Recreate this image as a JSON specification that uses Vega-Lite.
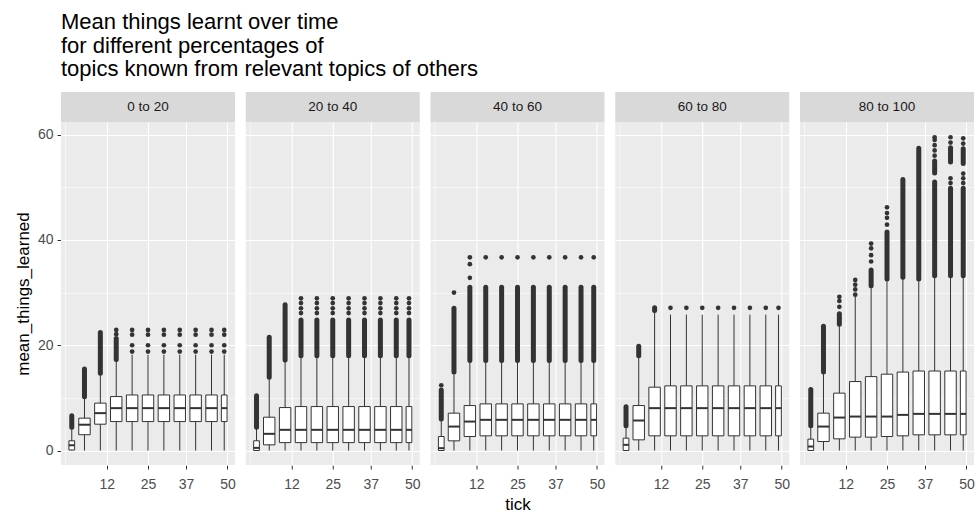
{
  "$schema": "https://vega.github.io/schema/vega-lite/v6.json",
  "background": "white",
  "padding": {"left": 14, "top": 11, "right": 2, "bottom": 0},
  "config": {"font": "Liberation Sans", "view": {"stroke": null}},
  "title": {
    "text": ["Mean things learnt over time", "\u2009for different percentages of", "\u2009topics known from relevant topics of others"],
    "anchor": "start", "frame": "group", "fontSize": 22, "fontWeight": "normal", "color": "#000000", "lineHeight": 23.5, "offset": 11
  },
  "spacing": 0,
  "vconcat": [
    {
      "data": {"values": [{"panel": "0 to 20"}, {"panel": "20 to 40"}, {"panel": "40 to 60"}, {"panel": "60 to 80"}, {"panel": "80 to 100"}]},
      "facet": {"column": {"field": "panel", "type": "nominal", "sort": ["0 to 20", "20 to 40", "40 to 60", "60 to 80", "80 to 100"], "header": {"labels": false, "title": null}}},
      "spacing": 10.75,
      "spec": {
        "width": 174, "height": 30,
        "view": {"fill": "#D9D9D9", "stroke": null},
        "mark": {"type": "text", "fontSize": 13.5, "color": "#1A1A1A"},
        "encoding": {"text": {"field": "panel", "type": "nominal"}}
      }
    },
    {
      "data": {"values": [
        {"panel":"0 to 20","kind":"box","tick":1,"box_start":0.1,"box_end":1.9,"lower":0,"q1":0.1,"median":1.0,"q3":1.85,"upper":4.2},
        {"panel":"0 to 20","kind":"box","tick":5,"box_start":3.2,"box_end":6.8,"lower":0,"q1":3.0,"median":4.9,"q3":6.15,"upper":9.9},
        {"panel":"0 to 20","kind":"box","tick":10,"box_start":8.2,"box_end":11.8,"lower":0,"q1":5.0,"median":7.1,"q3":9.0,"upper":14.4},
        {"panel":"0 to 20","kind":"box","tick":15,"box_start":13.2,"box_end":16.8,"lower":0,"q1":5.5,"median":8.05,"q3":10.25,"upper":17.0},
        {"panel":"0 to 20","kind":"box","tick":20,"box_start":18.2,"box_end":21.8,"lower":0,"q1":5.5,"median":8.05,"q3":10.55,"upper":18.2},
        {"panel":"0 to 20","kind":"box","tick":25,"box_start":23.2,"box_end":26.8,"lower":0,"q1":5.5,"median":8.05,"q3":10.55,"upper":18.2},
        {"panel":"0 to 20","kind":"box","tick":30,"box_start":28.2,"box_end":31.8,"lower":0,"q1":5.5,"median":8.05,"q3":10.55,"upper":18.2},
        {"panel":"0 to 20","kind":"box","tick":35,"box_start":33.2,"box_end":36.8,"lower":0,"q1":5.5,"median":8.05,"q3":10.55,"upper":18.2},
        {"panel":"0 to 20","kind":"box","tick":40,"box_start":38.2,"box_end":41.8,"lower":0,"q1":5.5,"median":8.05,"q3":10.55,"upper":18.2},
        {"panel":"0 to 20","kind":"box","tick":45,"box_start":43.2,"box_end":46.8,"lower":0,"q1":5.5,"median":8.05,"q3":10.55,"upper":18.2},
        {"panel":"0 to 20","kind":"box","tick":49,"box_start":48.1,"box_end":49.9,"lower":0,"q1":5.5,"median":8.05,"q3":10.55,"upper":18.2},
        {"panel":"0 to 20","kind":"streak","tick":1,"from":4.4,"to":6.6},
        {"panel":"0 to 20","kind":"streak","tick":5,"from":10.2,"to":15.5},
        {"panel":"0 to 20","kind":"streak","tick":10,"from":14.7,"to":22.4},
        {"panel":"0 to 20","kind":"streak","tick":15,"from":17.3,"to":21.3},
        {"panel":"0 to 20","kind":"dot","tick":15,"value":22.1},
        {"panel":"0 to 20","kind":"dot","tick":15,"value":22.9},
        {"panel":"0 to 20","kind":"dot","tick":20,"value":18.8},{"panel":"0 to 20","kind":"dot","tick":20,"value":20.0},{"panel":"0 to 20","kind":"dot","tick":20,"value":22.0},{"panel":"0 to 20","kind":"dot","tick":20,"value":22.9},
        {"panel":"0 to 20","kind":"dot","tick":25,"value":18.8},{"panel":"0 to 20","kind":"dot","tick":25,"value":20.0},{"panel":"0 to 20","kind":"dot","tick":25,"value":22.0},{"panel":"0 to 20","kind":"dot","tick":25,"value":22.9},
        {"panel":"0 to 20","kind":"dot","tick":30,"value":18.8},{"panel":"0 to 20","kind":"dot","tick":30,"value":20.0},{"panel":"0 to 20","kind":"dot","tick":30,"value":22.0},{"panel":"0 to 20","kind":"dot","tick":30,"value":22.9},
        {"panel":"0 to 20","kind":"dot","tick":35,"value":18.8},{"panel":"0 to 20","kind":"dot","tick":35,"value":20.0},{"panel":"0 to 20","kind":"dot","tick":35,"value":22.0},{"panel":"0 to 20","kind":"dot","tick":35,"value":22.9},
        {"panel":"0 to 20","kind":"dot","tick":40,"value":18.8},{"panel":"0 to 20","kind":"dot","tick":40,"value":20.0},{"panel":"0 to 20","kind":"dot","tick":40,"value":22.0},{"panel":"0 to 20","kind":"dot","tick":40,"value":22.9},
        {"panel":"0 to 20","kind":"dot","tick":45,"value":18.8},{"panel":"0 to 20","kind":"dot","tick":45,"value":20.0},{"panel":"0 to 20","kind":"dot","tick":45,"value":22.0},{"panel":"0 to 20","kind":"dot","tick":45,"value":22.9},
        {"panel":"0 to 20","kind":"dot","tick":49,"value":18.8},{"panel":"0 to 20","kind":"dot","tick":49,"value":20.0},{"panel":"0 to 20","kind":"dot","tick":49,"value":22.0},{"panel":"0 to 20","kind":"dot","tick":49,"value":22.9},

        {"panel":"20 to 40","kind":"box","tick":1,"box_start":0.1,"box_end":1.9,"lower":0,"q1":0,"median":0.5,"q3":1.85,"upper":4.25},
        {"panel":"20 to 40","kind":"box","tick":5,"box_start":3.2,"box_end":6.8,"lower":0,"q1":1.08,"median":3.17,"q3":6.33,"upper":13.7},
        {"panel":"20 to 40","kind":"box","tick":10,"box_start":8.2,"box_end":11.8,"lower":0,"q1":1.5,"median":3.93,"q3":8.16,"upper":17.0},
        {"panel":"20 to 40","kind":"box","tick":15,"box_start":13.2,"box_end":16.8,"lower":0,"q1":1.5,"median":3.93,"q3":8.35,"upper":17.8},
        {"panel":"20 to 40","kind":"box","tick":20,"box_start":18.2,"box_end":21.8,"lower":0,"q1":1.5,"median":3.93,"q3":8.35,"upper":17.8},
        {"panel":"20 to 40","kind":"box","tick":25,"box_start":23.2,"box_end":26.8,"lower":0,"q1":1.5,"median":3.93,"q3":8.35,"upper":17.8},
        {"panel":"20 to 40","kind":"box","tick":30,"box_start":28.2,"box_end":31.8,"lower":0,"q1":1.5,"median":3.93,"q3":8.35,"upper":17.8},
        {"panel":"20 to 40","kind":"box","tick":35,"box_start":33.2,"box_end":36.8,"lower":0,"q1":1.5,"median":3.93,"q3":8.35,"upper":17.8},
        {"panel":"20 to 40","kind":"box","tick":40,"box_start":38.2,"box_end":41.8,"lower":0,"q1":1.5,"median":3.93,"q3":8.35,"upper":17.8},
        {"panel":"20 to 40","kind":"box","tick":45,"box_start":43.2,"box_end":46.8,"lower":0,"q1":1.5,"median":3.93,"q3":8.35,"upper":17.8},
        {"panel":"20 to 40","kind":"box","tick":49,"box_start":48.1,"box_end":49.9,"lower":0,"q1":1.5,"median":3.93,"q3":8.35,"upper":17.8},
        {"panel":"20 to 40","kind":"streak","tick":1,"from":4.4,"to":10.4},
        {"panel":"20 to 40","kind":"streak","tick":5,"from":13.9,"to":21.5},
        {"panel":"20 to 40","kind":"streak","tick":10,"from":17.2,"to":27.7},
        {"panel":"20 to 40","kind":"streak","tick":15,"from":18.0,"to":24.8},
        {"panel":"20 to 40","kind":"streak","tick":20,"from":18.0,"to":24.8},
        {"panel":"20 to 40","kind":"streak","tick":25,"from":18.0,"to":24.8},
        {"panel":"20 to 40","kind":"streak","tick":30,"from":18.0,"to":24.8},
        {"panel":"20 to 40","kind":"streak","tick":35,"from":18.0,"to":24.8},
        {"panel":"20 to 40","kind":"streak","tick":40,"from":18.0,"to":24.8},
        {"panel":"20 to 40","kind":"streak","tick":45,"from":18.0,"to":24.8},
        {"panel":"20 to 40","kind":"streak","tick":49,"from":18.0,"to":24.8},
        {"panel":"20 to 40","kind":"dot","tick":15,"value":26.1},{"panel":"20 to 40","kind":"dot","tick":15,"value":27.0},{"panel":"20 to 40","kind":"dot","tick":15,"value":28.0},{"panel":"20 to 40","kind":"dot","tick":15,"value":28.9},
        {"panel":"20 to 40","kind":"dot","tick":20,"value":26.1},{"panel":"20 to 40","kind":"dot","tick":20,"value":27.0},{"panel":"20 to 40","kind":"dot","tick":20,"value":28.0},{"panel":"20 to 40","kind":"dot","tick":20,"value":28.9},
        {"panel":"20 to 40","kind":"dot","tick":25,"value":26.1},{"panel":"20 to 40","kind":"dot","tick":25,"value":27.0},{"panel":"20 to 40","kind":"dot","tick":25,"value":28.0},{"panel":"20 to 40","kind":"dot","tick":25,"value":28.9},
        {"panel":"20 to 40","kind":"dot","tick":30,"value":26.1},{"panel":"20 to 40","kind":"dot","tick":30,"value":27.0},{"panel":"20 to 40","kind":"dot","tick":30,"value":28.0},{"panel":"20 to 40","kind":"dot","tick":30,"value":28.9},
        {"panel":"20 to 40","kind":"dot","tick":35,"value":26.1},{"panel":"20 to 40","kind":"dot","tick":35,"value":27.0},{"panel":"20 to 40","kind":"dot","tick":35,"value":28.0},{"panel":"20 to 40","kind":"dot","tick":35,"value":28.9},
        {"panel":"20 to 40","kind":"dot","tick":40,"value":26.1},{"panel":"20 to 40","kind":"dot","tick":40,"value":27.0},{"panel":"20 to 40","kind":"dot","tick":40,"value":28.0},{"panel":"20 to 40","kind":"dot","tick":40,"value":28.9},
        {"panel":"20 to 40","kind":"dot","tick":45,"value":26.1},{"panel":"20 to 40","kind":"dot","tick":45,"value":27.0},{"panel":"20 to 40","kind":"dot","tick":45,"value":28.0},{"panel":"20 to 40","kind":"dot","tick":45,"value":28.9},
        {"panel":"20 to 40","kind":"dot","tick":49,"value":26.1},{"panel":"20 to 40","kind":"dot","tick":49,"value":27.0},{"panel":"20 to 40","kind":"dot","tick":49,"value":28.0},{"panel":"20 to 40","kind":"dot","tick":49,"value":28.9},

        {"panel":"40 to 60","kind":"box","tick":1,"box_start":0.1,"box_end":1.9,"lower":0,"q1":0,"median":0.45,"q3":2.66,"upper":5.8},
        {"panel":"40 to 60","kind":"box","tick":5,"box_start":3.2,"box_end":6.8,"lower":0,"q1":1.84,"median":4.55,"q3":7.1,"upper":14.7},
        {"panel":"40 to 60","kind":"box","tick":10,"box_start":8.2,"box_end":11.8,"lower":0,"q1":2.66,"median":5.5,"q3":8.54,"upper":16.9},
        {"panel":"40 to 60","kind":"box","tick":15,"box_start":13.2,"box_end":16.8,"lower":0,"q1":2.79,"median":5.83,"q3":8.86,"upper":16.9},
        {"panel":"40 to 60","kind":"box","tick":20,"box_start":18.2,"box_end":21.8,"lower":0,"q1":2.79,"median":5.83,"q3":8.86,"upper":16.9},
        {"panel":"40 to 60","kind":"box","tick":25,"box_start":23.2,"box_end":26.8,"lower":0,"q1":2.79,"median":5.83,"q3":8.86,"upper":16.9},
        {"panel":"40 to 60","kind":"box","tick":30,"box_start":28.2,"box_end":31.8,"lower":0,"q1":2.79,"median":5.83,"q3":8.86,"upper":16.9},
        {"panel":"40 to 60","kind":"box","tick":35,"box_start":33.2,"box_end":36.8,"lower":0,"q1":2.79,"median":5.83,"q3":8.86,"upper":16.9},
        {"panel":"40 to 60","kind":"box","tick":40,"box_start":38.2,"box_end":41.8,"lower":0,"q1":2.79,"median":5.83,"q3":8.86,"upper":16.9},
        {"panel":"40 to 60","kind":"box","tick":45,"box_start":43.2,"box_end":46.8,"lower":0,"q1":2.79,"median":5.83,"q3":8.86,"upper":16.9},
        {"panel":"40 to 60","kind":"box","tick":49,"box_start":48.1,"box_end":49.9,"lower":0,"q1":2.79,"median":5.83,"q3":8.86,"upper":16.9},
        {"panel":"40 to 60","kind":"streak","tick":1,"from":6.0,"to":11.5},
        {"panel":"40 to 60","kind":"dot","tick":1,"value":12.4},
        {"panel":"40 to 60","kind":"streak","tick":5,"from":14.9,"to":27.0},
        {"panel":"40 to 60","kind":"dot","tick":5,"value":30.0},
        {"panel":"40 to 60","kind":"streak","tick":10,"from":17.1,"to":31.0},
        {"panel":"40 to 60","kind":"dot","tick":10,"value":32.8},{"panel":"40 to 60","kind":"dot","tick":10,"value":35.4},{"panel":"40 to 60","kind":"dot","tick":10,"value":36.7},
        {"panel":"40 to 60","kind":"streak","tick":15,"from":17.1,"to":31.0},{"panel":"40 to 60","kind":"dot","tick":15,"value":36.7},
        {"panel":"40 to 60","kind":"streak","tick":20,"from":17.1,"to":31.0},{"panel":"40 to 60","kind":"dot","tick":20,"value":36.7},
        {"panel":"40 to 60","kind":"streak","tick":25,"from":17.1,"to":31.0},{"panel":"40 to 60","kind":"dot","tick":25,"value":36.7},
        {"panel":"40 to 60","kind":"streak","tick":30,"from":17.1,"to":31.0},{"panel":"40 to 60","kind":"dot","tick":30,"value":36.7},
        {"panel":"40 to 60","kind":"streak","tick":35,"from":17.1,"to":31.0},{"panel":"40 to 60","kind":"dot","tick":35,"value":36.7},
        {"panel":"40 to 60","kind":"streak","tick":40,"from":17.1,"to":31.0},{"panel":"40 to 60","kind":"dot","tick":40,"value":36.7},
        {"panel":"40 to 60","kind":"streak","tick":45,"from":17.1,"to":31.0},{"panel":"40 to 60","kind":"dot","tick":45,"value":36.7},
        {"panel":"40 to 60","kind":"streak","tick":49,"from":17.1,"to":31.0},{"panel":"40 to 60","kind":"dot","tick":49,"value":36.7},

        {"panel":"60 to 80","kind":"box","tick":1,"box_start":0.1,"box_end":1.9,"lower":0,"q1":0,"median":1.08,"q3":2.35,"upper":4.5},
        {"panel":"60 to 80","kind":"box","tick":5,"box_start":3.2,"box_end":6.8,"lower":0,"q1":2.03,"median":5.7,"q3":8.54,"upper":17.8},
        {"panel":"60 to 80","kind":"box","tick":10,"box_start":8.2,"box_end":11.8,"lower":0,"q1":2.79,"median":8.05,"q3":12.03,"upper":26.3},
        {"panel":"60 to 80","kind":"box","tick":15,"box_start":13.2,"box_end":16.8,"lower":0,"q1":2.79,"median":8.05,"q3":12.28,"upper":25.8},
        {"panel":"60 to 80","kind":"box","tick":20,"box_start":18.2,"box_end":21.8,"lower":0,"q1":2.79,"median":8.05,"q3":12.28,"upper":25.8},
        {"panel":"60 to 80","kind":"box","tick":25,"box_start":23.2,"box_end":26.8,"lower":0,"q1":2.79,"median":8.05,"q3":12.28,"upper":25.8},
        {"panel":"60 to 80","kind":"box","tick":30,"box_start":28.2,"box_end":31.8,"lower":0,"q1":2.79,"median":8.05,"q3":12.28,"upper":25.8},
        {"panel":"60 to 80","kind":"box","tick":35,"box_start":33.2,"box_end":36.8,"lower":0,"q1":2.79,"median":8.05,"q3":12.28,"upper":25.8},
        {"panel":"60 to 80","kind":"box","tick":40,"box_start":38.2,"box_end":41.8,"lower":0,"q1":2.79,"median":8.05,"q3":12.28,"upper":25.8},
        {"panel":"60 to 80","kind":"box","tick":45,"box_start":43.2,"box_end":46.8,"lower":0,"q1":2.79,"median":8.05,"q3":12.28,"upper":25.8},
        {"panel":"60 to 80","kind":"box","tick":49,"box_start":48.1,"box_end":49.9,"lower":0,"q1":2.79,"median":8.05,"q3":12.28,"upper":25.8},
        {"panel":"60 to 80","kind":"streak","tick":1,"from":4.7,"to":8.3},
        {"panel":"60 to 80","kind":"streak","tick":5,"from":18.0,"to":19.8},
        {"panel":"60 to 80","kind":"streak","tick":10,"from":26.6,"to":27.1},
        {"panel":"60 to 80","kind":"dot","tick":15,"value":27.1},
        {"panel":"60 to 80","kind":"dot","tick":20,"value":27.1},
        {"panel":"60 to 80","kind":"dot","tick":25,"value":27.1},
        {"panel":"60 to 80","kind":"dot","tick":30,"value":27.1},
        {"panel":"60 to 80","kind":"dot","tick":35,"value":27.1},
        {"panel":"60 to 80","kind":"dot","tick":40,"value":27.1},
        {"panel":"60 to 80","kind":"dot","tick":45,"value":27.1},
        {"panel":"60 to 80","kind":"dot","tick":49,"value":27.1},

        {"panel":"80 to 100","kind":"box","tick":1,"box_start":0.1,"box_end":1.9,"lower":0,"q1":0,"median":0.76,"q3":2.16,"upper":4.5},
        {"panel":"80 to 100","kind":"box","tick":5,"box_start":3.2,"box_end":6.8,"lower":0,"q1":1.71,"median":4.55,"q3":7.1,"upper":14.7},
        {"panel":"80 to 100","kind":"box","tick":10,"box_start":8.2,"box_end":11.8,"lower":0,"q1":2.22,"median":6.26,"q3":10.9,"upper":23.8},
        {"panel":"80 to 100","kind":"box","tick":15,"box_start":13.2,"box_end":16.8,"lower":0,"q1":2.54,"median":6.45,"q3":13.1,"upper":29.3},
        {"panel":"80 to 100","kind":"box","tick":20,"box_start":18.2,"box_end":21.8,"lower":0,"q1":2.54,"median":6.45,"q3":14.04,"upper":31.1},
        {"panel":"80 to 100","kind":"box","tick":25,"box_start":23.2,"box_end":26.8,"lower":0,"q1":2.66,"median":6.45,"q3":14.5,"upper":32.4},
        {"panel":"80 to 100","kind":"box","tick":30,"box_start":28.2,"box_end":31.8,"lower":0,"q1":2.79,"median":6.77,"q3":14.9,"upper":32.7},
        {"panel":"80 to 100","kind":"box","tick":35,"box_start":33.2,"box_end":36.8,"lower":0,"q1":2.98,"median":6.96,"q3":15.1,"upper":32.4},
        {"panel":"80 to 100","kind":"box","tick":40,"box_start":38.2,"box_end":41.8,"lower":0,"q1":2.98,"median":6.96,"q3":15.1,"upper":33.0},
        {"panel":"80 to 100","kind":"box","tick":45,"box_start":43.2,"box_end":46.8,"lower":0,"q1":2.98,"median":6.96,"q3":15.1,"upper":33.0},
        {"panel":"80 to 100","kind":"box","tick":49,"box_start":48.1,"box_end":49.9,"lower":0,"q1":2.98,"median":6.96,"q3":15.1,"upper":33.0},
        {"panel":"80 to 100","kind":"streak","tick":1,"from":4.7,"to":11.6},
        {"panel":"80 to 100","kind":"streak","tick":5,"from":14.9,"to":23.6},
        {"panel":"80 to 100","kind":"streak","tick":10,"from":24.0,"to":26.0},
        {"panel":"80 to 100","kind":"dot","tick":10,"value":27.3},{"panel":"80 to 100","kind":"dot","tick":10,"value":28.4},{"panel":"80 to 100","kind":"dot","tick":10,"value":29.2},
        {"panel":"80 to 100","kind":"dot","tick":15,"value":29.6},{"panel":"80 to 100","kind":"dot","tick":15,"value":30.6},{"panel":"80 to 100","kind":"dot","tick":15,"value":31.5},{"panel":"80 to 100","kind":"dot","tick":15,"value":32.4},
        {"panel":"80 to 100","kind":"streak","tick":20,"from":31.3,"to":34.3},
        {"panel":"80 to 100","kind":"dot","tick":20,"value":35.9},{"panel":"80 to 100","kind":"dot","tick":20,"value":37.1},{"panel":"80 to 100","kind":"dot","tick":20,"value":38.4},{"panel":"80 to 100","kind":"dot","tick":20,"value":39.3},
        {"panel":"80 to 100","kind":"streak","tick":25,"from":32.6,"to":41.5},
        {"panel":"80 to 100","kind":"dot","tick":25,"value":42.9},{"panel":"80 to 100","kind":"dot","tick":25,"value":44.2},{"panel":"80 to 100","kind":"dot","tick":25,"value":45.1},{"panel":"80 to 100","kind":"dot","tick":25,"value":46.2},
        {"panel":"80 to 100","kind":"streak","tick":30,"from":32.9,"to":51.5},
        {"panel":"80 to 100","kind":"streak","tick":35,"from":32.6,"to":57.4},
        {"panel":"80 to 100","kind":"streak","tick":40,"from":33.2,"to":51.0},
        {"panel":"80 to 100","kind":"streak","tick":40,"from":52.7,"to":55.0},
        {"panel":"80 to 100","kind":"dot","tick":40,"value":56.0},{"panel":"80 to 100","kind":"dot","tick":40,"value":57.0},{"panel":"80 to 100","kind":"dot","tick":40,"value":58.0},{"panel":"80 to 100","kind":"dot","tick":40,"value":59.0},{"panel":"80 to 100","kind":"dot","tick":40,"value":59.5},
        {"panel":"80 to 100","kind":"streak","tick":45,"from":33.2,"to":49.8},
        {"panel":"80 to 100","kind":"dot","tick":45,"value":50.8},{"panel":"80 to 100","kind":"dot","tick":45,"value":51.7},
        {"panel":"80 to 100","kind":"streak","tick":45,"from":54.8,"to":57.5},
        {"panel":"80 to 100","kind":"dot","tick":45,"value":58.5},{"panel":"80 to 100","kind":"dot","tick":45,"value":59.5},
        {"panel":"80 to 100","kind":"streak","tick":49,"from":33.2,"to":49.8},
        {"panel":"80 to 100","kind":"dot","tick":49,"value":50.8},{"panel":"80 to 100","kind":"dot","tick":49,"value":51.7},{"panel":"80 to 100","kind":"dot","tick":49,"value":52.6},
        {"panel":"80 to 100","kind":"streak","tick":49,"from":54.5,"to":57.3},
        {"panel":"80 to 100","kind":"dot","tick":49,"value":58.3},{"panel":"80 to 100","kind":"dot","tick":49,"value":59.3}
      ]},
      "facet": {"column": {"field": "panel", "type": "nominal", "sort": ["0 to 20", "20 to 40", "40 to 60", "60 to 80", "80 to 100"],
        "header": {"labels": false, "title": "tick", "titleOrient": "bottom", "titleFontSize": 17, "titleFontWeight": "normal", "titleColor": "#000000", "titlePadding": -4}}},
      "spacing": 10.75,
      "spec": {
        "width": 174, "height": 343,
        "view": {"fill": "#EBEBEB", "stroke": null},
        "layer": [
          {
            "transform": [{"filter": "datum.kind == 'box'"}],
            "mark": {"type": "rule", "color": "#333333", "strokeWidth": 1},
            "encoding": {
              "x": {"field": "tick", "type": "quantitative", "scale": {"domain": [-2.39, 52.39], "nice": false, "zero": false},
                "axis": {"values": [-1, 5.5, 12, 18.5, 25, 31, 37, 43.5, 50], "title": null, "domain": false, "grid": true, "gridColor": "#FFFFFF",
                  "gridWidth": {"condition": {"test": "indexof([12,25,37,50], datum.value) >= 0", "value": 1.1}, "value": 0.55},
                  "tickOpacity": {"condition": {"test": "indexof([12,25,37,50], datum.value) >= 0", "value": 1}, "value": 0},
                  "tickColor": "#333333", "tickSize": 4, "tickWidth": 1,
                  "labelExpr": "indexof([12,25,37,50], datum.value) >= 0 ? datum.label : ''",
                  "labelFontSize": 14, "labelColor": "#4D4D4D", "labelPadding": 8, "labelFlush": false, "labelOverlap": false}},
              "y": {"field": "lower", "type": "quantitative", "scale": {"domain": [-2.75, 62.4], "nice": false, "zero": false},
                "axis": {"values": [0, 10, 20, 30, 40, 50, 60], "title": "mean_things_learned", "titleFontSize": 17, "titleFontWeight": "normal", "titleColor": "#000000", "titlePadding": 5,
                  "domain": false, "grid": true, "gridColor": "#FFFFFF",
                  "gridWidth": {"condition": {"test": "datum.value % 20 == 0", "value": 1.1}, "value": 0.55},
                  "tickOpacity": {"condition": {"test": "datum.value % 20 == 0", "value": 1}, "value": 0},
                  "tickColor": "#333333", "tickSize": 4, "tickWidth": 1,
                  "labelExpr": "datum.value % 20 == 0 ? datum.label : ''",
                  "labelFontSize": 14, "labelColor": "#4D4D4D", "labelPadding": 4, "labelOverlap": false}},
              "y2": {"field": "upper"}
            }
          },
          {
            "transform": [{"filter": "datum.kind == 'streak'"}],
            "mark": {"type": "rule", "color": "#333333", "strokeWidth": 5, "strokeCap": "round"},
            "encoding": {
              "x": {"field": "tick", "type": "quantitative"},
              "y": {"field": "from", "type": "quantitative"},
              "y2": {"field": "to"}
            }
          },
          {
            "transform": [{"filter": "datum.kind == 'dot'"}],
            "mark": {"type": "point", "filled": true, "color": "#333333", "opacity": 1, "size": 22},
            "encoding": {
              "x": {"field": "tick", "type": "quantitative"},
              "y": {"field": "value", "type": "quantitative"}
            }
          },
          {
            "transform": [{"filter": "datum.kind == 'box'"}],
            "mark": {"type": "bar", "fill": "#FFFFFF", "stroke": "#333333", "strokeWidth": 1},
            "encoding": {
              "x": {"field": "box_start", "type": "quantitative"},
              "x2": {"field": "box_end"},
              "y": {"field": "q1", "type": "quantitative"},
              "y2": {"field": "q3"}
            }
          },
          {
            "transform": [{"filter": "datum.kind == 'box'"}],
            "mark": {"type": "rule", "color": "#333333", "strokeWidth": 2},
            "encoding": {
              "x": {"field": "box_start", "type": "quantitative"},
              "x2": {"field": "box_end"},
              "y": {"field": "median", "type": "quantitative"}
            }
          }
        ]
      }
    }
  ]
}
